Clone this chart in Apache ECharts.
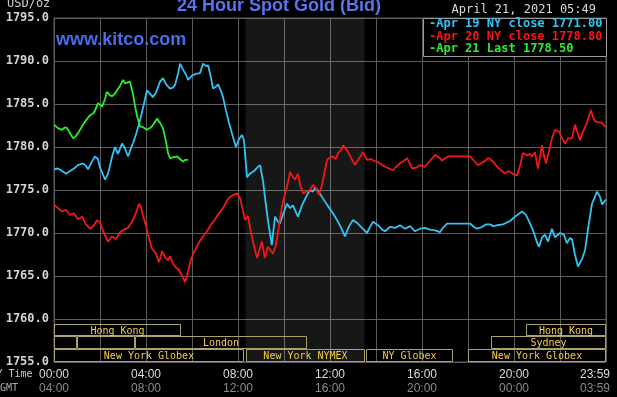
<!DOCTYPE html>
<html>
<head>
<meta charset="utf-8">
<script src="https://cdn.jsdelivr.net/npm/echarts@6/dist/echarts.min.js"></script>
<style>html,body{margin:0;padding:0;background:#000;}#c{width:617px;height:397px;}</style>
</head>
<body>
<div id="c"></div>
<script>
// ---- Data (hours since 00:00 NY time, USD/oz) ----
const apr19T = [0,0.17,0.35,0.52,0.70,0.87,1.04,1.26,1.39,1.48,1.65,1.78,1.91,2.00,2.13,2.22,2.35,2.52,2.65,2.78,2.96,3.09,3.22,3.35,3.43,3.57,3.74,3.91,4.04,4.17,4.30,4.43,4.61,4.74,4.87,5.04,5.17,5.26,5.39,5.48,5.61,5.74,5.83,6.00,6.17,6.35,6.48,6.61,6.70,6.83,6.91,7.04,7.13,7.26,7.35,7.48,7.61,7.78,7.91,8.04,8.17,8.26,8.39,8.52,8.70,8.83,8.96,9.09,9.17,9.30,9.47,9.52,9.61,9.74,9.83,9.96,10.13,10.26,10.39,10.52,10.61,10.78,10.96,11.13,11.26,11.35,11.48,11.65,11.87,12.13,12.35,12.52,12.65,12.83,13.00,13.17,13.39,13.61,13.74,13.87,14.09,14.26,14.39,14.61,14.83,15.04,15.26,15.48,15.70,15.91,16.13,16.35,16.57,16.78,16.91,17.09,17.43,17.74,18.09,18.26,18.39,18.61,18.78,18.96,19.09,19.26,19.52,19.83,20.04,20.35,20.52,20.70,20.87,21.00,21.09,21.22,21.35,21.48,21.65,21.78,22.00,22.17,22.30,22.43,22.52,22.65,22.78,22.96,23.09,23.22,23.39,23.61,23.74,23.83,23.91,24.00];
const apr19V = [1777.4,1777.5,1777.2,1776.9,1777.2,1777.5,1777.9,1778.1,1777.8,1777.4,1778.3,1778.9,1778.6,1777.6,1776.8,1776.2,1776.9,1778.8,1780.0,1779.2,1780.4,1779.8,1778.9,1779.9,1780.4,1781.5,1783.1,1785.0,1786.6,1786.2,1785.8,1786.3,1787.6,1788.0,1787.3,1786.8,1786.9,1787.2,1788.5,1789.7,1789.0,1788.4,1787.8,1788.3,1788.5,1788.6,1789.7,1789.4,1789.5,1788.0,1786.8,1787.0,1787.3,1786.5,1785.8,1784.2,1782.8,1781.2,1780.0,1780.9,1781.4,1780.8,1776.5,1776.9,1777.2,1777.6,1777.9,1776.0,1774.2,1771.5,1768.6,1769.8,1771.9,1771.3,1771.1,1772.2,1773.4,1772.9,1773.2,1772.4,1771.9,1773.2,1774.2,1775.0,1774.8,1775.3,1774.9,1774.2,1773.3,1772.3,1771.3,1770.4,1769.6,1770.8,1771.5,1771.2,1770.6,1770.0,1770.7,1771.3,1770.9,1770.4,1770.2,1770.7,1770.6,1770.9,1770.5,1770.8,1770.2,1770.5,1770.6,1770.4,1770.3,1770.1,1770.6,1771.1,1771.1,1771.1,1771.1,1770.7,1770.5,1770.7,1771.0,1771.0,1770.8,1770.9,1771.0,1771.4,1771.9,1772.5,1772.1,1771.1,1770.0,1768.9,1768.4,1769.5,1769.8,1769.0,1770.5,1769.5,1770.0,1769.8,1768.8,1769.4,1769.3,1767.5,1766.1,1767.0,1768.0,1770.5,1773.4,1774.8,1774.2,1773.3,1773.6,1773.9];

const apr20T = [0,0.17,0.35,0.52,0.70,0.87,1.04,1.22,1.39,1.57,1.74,1.87,2.00,2.17,2.35,2.52,2.70,2.87,3.04,3.22,3.39,3.57,3.70,3.78,3.87,4.00,4.13,4.26,4.43,4.57,4.70,4.83,4.96,5.04,5.17,5.30,5.43,5.57,5.70,5.83,5.96,6.13,6.30,6.48,6.65,6.83,7.00,7.17,7.35,7.52,7.65,7.78,7.96,8.09,8.22,8.30,8.43,8.57,8.74,8.83,8.96,9.04,9.17,9.30,9.43,9.52,9.65,9.78,9.91,10.04,10.17,10.26,10.39,10.48,10.61,10.70,10.83,10.96,11.13,11.26,11.39,11.52,11.65,11.78,11.87,12.00,12.13,12.26,12.35,12.48,12.57,12.65,12.74,12.87,13.00,13.09,13.22,13.35,13.43,13.61,13.78,13.91,14.04,14.22,14.39,14.57,14.74,14.87,15.04,15.22,15.35,15.48,15.57,15.74,15.91,16.13,16.35,16.57,16.78,16.87,17.00,17.13,17.43,17.74,18.09,18.26,18.43,18.70,18.87,18.96,19.13,19.30,19.48,19.61,19.74,19.83,20.00,20.13,20.26,20.39,20.57,20.70,20.78,20.91,21.04,21.13,21.22,21.30,21.39,21.52,21.65,21.78,21.96,22.09,22.22,22.35,22.43,22.52,22.65,22.78,22.87,23.00,23.17,23.26,23.35,23.43,23.52,23.65,23.83,23.91,24.00];
const apr20V = [1773.3,1772.9,1772.5,1772.7,1772.1,1772.3,1771.6,1771.9,1771.0,1770.5,1770.9,1771.5,1771.2,1770.0,1769.0,1769.6,1769.3,1770.1,1770.4,1770.6,1771.3,1772.4,1773.4,1773.0,1772.0,1770.8,1769.4,1768.2,1767.6,1766.6,1767.9,1767.2,1766.8,1767.3,1766.5,1766.0,1765.7,1765.0,1764.3,1765.5,1767.0,1768.0,1768.9,1769.6,1770.2,1771.0,1771.6,1772.3,1772.9,1773.8,1774.2,1774.4,1774.6,1774.0,1772.6,1771.5,1772.0,1770.0,1768.0,1767.1,1768.3,1769.0,1767.1,1768.4,1767.9,1767.6,1768.6,1770.8,1773.1,1774.5,1775.8,1777.1,1776.5,1776.2,1776.9,1775.6,1774.6,1774.8,1775.0,1775.6,1775.2,1774.4,1775.6,1777.3,1778.5,1778.8,1778.9,1778.6,1779.3,1779.6,1780.2,1779.9,1779.6,1779.0,1778.3,1777.9,1778.5,1779.0,1779.4,1778.5,1778.6,1778.4,1778.3,1778.0,1777.7,1777.5,1777.3,1777.7,1778.1,1778.4,1778.7,1778.0,1777.5,1777.6,1777.9,1777.7,1778.4,1779.1,1778.7,1778.4,1778.7,1778.9,1778.9,1778.9,1778.9,1778.4,1777.9,1778.3,1778.7,1778.6,1778.2,1777.6,1777.2,1776.9,1777.2,1777.1,1776.8,1776.7,1777.8,1779.3,1779.0,1779.2,1778.9,1779.4,1777.5,1778.8,1780.2,1779.0,1778.1,1779.5,1781.0,1782.0,1781.8,1781.0,1780.4,1781.0,1781.2,1781.0,1782.6,1781.5,1780.8,1781.8,1782.8,1783.6,1784.3,1783.5,1783.0,1782.9,1782.8,1782.5,1782.4];

const apr21T = [0,0.17,0.35,0.48,0.57,0.70,0.83,0.96,1.09,1.22,1.39,1.57,1.70,1.78,1.91,2.00,2.09,2.22,2.30,2.43,2.52,2.65,2.74,2.87,3.00,3.09,3.17,3.30,3.43,3.52,3.61,3.74,3.87,4.04,4.17,4.26,4.39,4.48,4.61,4.74,4.87,4.96,5.04,5.17,5.35,5.48,5.61,5.70,5.83];
const apr21V = [1782.6,1782.2,1782.0,1782.3,1782.2,1781.6,1781.0,1781.3,1781.8,1782.4,1783.1,1783.7,1783.9,1784.2,1785.1,1784.9,1784.7,1785.6,1786.4,1786.0,1785.9,1786.2,1786.6,1787.1,1787.8,1787.4,1787.3,1787.6,1786.2,1784.8,1783.6,1782.4,1782.3,1782.0,1782.2,1782.4,1782.9,1783.3,1782.8,1782.2,1780.6,1779.3,1778.7,1778.8,1778.9,1778.6,1778.3,1778.5,1778.5];

const legendTexts = ['-Apr 19 NY close 1771.00', '-Apr 20 NY close 1778.80', '-Apr 21 Last 1778.50'];
const sessStart = [0, 20.5, 0, 1, 3.5, 19, 0, 8.33, 13.58, 18];
const sessEnd   = [5.5, 24, 1, 3.5, 11, 24, 8.25, 13.5, 17.35, 24];
const sessRow   = [0, 0, 1, 1, 1, 1, 2, 2, 2, 2];
const sessLabel = ['Hong Kong','Hong Kong','','','London','Sydney','New York Globex','New York NYMEX','NY Globex','New York Globex'];
const nymexStart = 8.33, nymexEnd = 13.5;
const yMin = 1755, yMax = 1795, yStep = 5;

// ---- Styles ----
const MONO = '"DejaVu Sans Mono", monospace';
const C_CYAN = '#33c3f2', C_RED = '#f51616', C_GREEN = '#2cec2c';
const zip = (t, v) => t.map((x, i) => [x, v[i]]);
const pad = n => (n < 10 ? '0' : '') + n + ':00';

const chart = echarts.init(document.getElementById('c'), null, {renderer: 'canvas'});
chart.setOption({
  backgroundColor: '#000',
  animation: false,
  grid: {left: 54, right: 11, top: 18, bottom: 35, containLabel: false, outerBoundsMode: 'none',
    show: true, borderColor: '#5c5c5c', borderWidth: 1},
  xAxis: {
    type: 'value', min: 0, max: 24, interval: 2,
    axisLine: {show: false}, axisTick: {show: false},
    splitLine: {show: true, lineStyle: {color: '#5c5c5c', width: 1}},
    axisLabel: {
      margin: 6, interval: 0, hideOverlap: false,
      formatter: v => {
        if (v === 24) return '{c|23:59}\n{d|03:59}';
        if (v % 4 !== 0) return '';
        return '{a|' + pad(v) + '}\n{b|' + pad((v + 4) % 24) + '}';
      },
      rich: {
        a: {color: '#dcdcdc', font: 'bold 12px ' + MONO, lineHeight: 14},
        b: {color: '#8a8a8a', font: 'bold 12px ' + MONO, lineHeight: 14},
        c: {color: '#dcdcdc', font: 'bold 12px ' + MONO, lineHeight: 14, padding: [0, 22, 0, 0]},
        d: {color: '#8a8a8a', font: 'bold 12px ' + MONO, lineHeight: 14, padding: [0, 22, 0, 0]}
      }
    }
  },
  yAxis: {
    type: 'value', min: yMin, max: yMax, interval: yStep,
    axisLine: {show: false}, axisTick: {show: false},
    splitLine: {show: true, lineStyle: {color: '#5c5c5c', width: 1}},
    axisLabel: {margin: 5, color: '#d4d4d4', fontFamily: MONO, fontWeight: 'bold', fontSize: 12, formatter: v => v.toFixed(1)}
  },
  series: [
    {
      type: 'line', data: [], silent: true, z: 1,
      markArea: {silent: true, itemStyle: {color: 'rgba(255,255,255,0.09)'},
        data: [[{xAxis: nymexStart}, {xAxis: nymexEnd}]]}
    },
    {
      type: 'custom', z: 3, silent: true,
      data: sessStart.map((s, i) => [s, sessEnd[i], sessRow[i]]),
      encode: {x: [0, 1], y: 2},
      renderItem: (params, api) => {
        const s = api.value(0), e = api.value(1), r = api.value(2);
        const top = 1759.45 - r * 1.483, bot = top - 1.483;
        const p1 = api.coord([s, top]), p2 = api.coord([e, bot]);
        const x1 = Math.round(p1[0]) + 0.5, y1 = Math.round(p1[1]) + 0.5;
        const x2 = Math.round(p2[0]) - 0.5, y2 = Math.round(p2[1]) - 0.5;
        return {
          type: 'group',
          children: [
            {type: 'rect', shape: {x: x1, y: y1, width: x2 - x1, height: y2 - y1},
              style: {fill: null, stroke: '#aaa26c', lineWidth: 1}},
            {type: 'text', style: {text: sessLabel[params.dataIndex], x: (x1 + x2) / 2, y: (y1 + y2) / 2 + 1,
              align: 'center', verticalAlign: 'middle', fill: '#f6cd45', font: '10px ' + MONO}}
          ]
        };
      }
    },
    {type: 'line', name: 'Apr 19', data: zip(apr19T, apr19V), showSymbol: false, z: 4,
      lineStyle: {color: C_CYAN, width: 1.8}},
    {type: 'line', name: 'Apr 20', data: zip(apr20T, apr20V), showSymbol: false, z: 5,
      lineStyle: {color: C_RED, width: 1.8}},
    {type: 'line', name: 'Apr 21', data: zip(apr21T, apr21V), showSymbol: false, z: 6,
      lineStyle: {color: C_GREEN, width: 1.8}}
  ],
  graphic: [
    {type: 'text', left: 177, top: -3, z: 10, style: {text: '24 Hour Spot Gold (Bid)', fill: '#5874ef', font: 'bold 18px "Liberation Sans", Arial, sans-serif'}},
    {type: 'text', left: 56, top: 31, z: 10, style: {text: 'www.kitco.com', fill: '#4a6ceb', font: 'bold 18px "Liberation Sans", Arial, sans-serif'}},
    {type: 'text', left: 7, top: -2, z: 10, style: {text: 'USD/oz', fill: '#cfcfcf', font: '12px ' + MONO}},
    {type: 'text', right: 21, top: 4, z: 10, style: {text: 'April 21, 2021 05:49', fill: '#d8d8d8', font: '12px ' + MONO}},
    {type: 'rect', shape: {x: 423.5, y: 18.5, width: 183, height: 38}, z: 10,
      style: {fill: '#000', stroke: '#9a9a9a', lineWidth: 1}},
    {type: 'text', left: 429, top: 18, z: 11, style: {text: legendTexts[0], fill: C_CYAN, font: 'bold 12px ' + MONO}},
    {type: 'text', left: 429, top: 30.5, z: 11, style: {text: legendTexts[1], fill: C_RED, font: 'bold 12px ' + MONO}},
    {type: 'text', left: 429, top: 43, z: 11, style: {text: legendTexts[2], fill: C_GREEN, font: 'bold 12px ' + MONO}},
    {type: 'text', z: 10, style: {x: 32.5, y: 374, text: 'NY Time', align: 'right', verticalAlign: 'middle', fill: '#cccccc', font: '10px ' + MONO}},
    {type: 'text', z: 10, style: {x: 18, y: 388, text: 'GMT', align: 'right', verticalAlign: 'middle', fill: '#aaaaaa', font: '10px ' + MONO}}
  ]
});
</script>
</body>
</html>
